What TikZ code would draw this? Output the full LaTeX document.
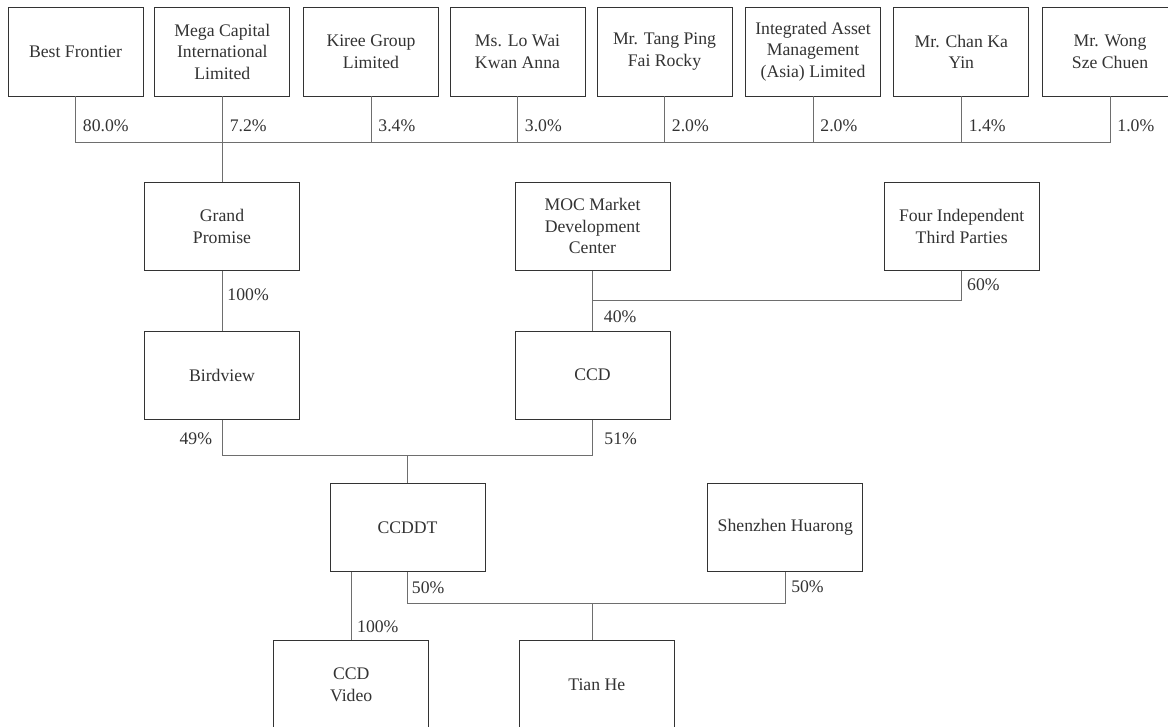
\documentclass[tikz,border=0pt]{standalone}
\usepackage{fontspec}
\setmainfont{Liberation Serif}
\usetikzlibrary{positioning}
\definecolor{boxgray}{HTML}{333333}
\definecolor{linkgray}{HTML}{6E6E6E}

\begin{document}
\begin{tikzpicture}[x=1pt, y=-1pt,
    font=\fontsize{17.7}{21.5}\selectfont, text=boxgray,
    owner/.style={draw=boxgray, line width=0.9pt, minimum width=135pt,
                  minimum height=88.5pt, align=center, inner sep=2pt},
    entity/.style={owner, minimum width=155pt, minimum height=88pt},
    link/.style={draw=linkgray, line width=0.9pt},
    pct/.style={anchor=west, inner sep=0pt, xshift=#1}, pct/.default=7pt,
    pctl/.style={anchor=east, inner sep=0pt, xshift=-9.5pt}]
    \fill[white] (0,0) rectangle (1168,726);
    \useasboundingbox (0,0) rectangle (1168,726);

    % shareholders
    \node [owner] (bf)    at (75.5,51.7)  {Best Frontier};
    \node [owner] (mega)  at (222.3,51.7) {Mega Capital\\International\\Limited};
    \node [owner] (kiree) at (371,51.7)   {Kiree Group\\Limited};
    \node [owner] (lowai) at (517.5,51.7) {Ms. Lo Wai\\Kwan Anna};
    \node [owner] (tang)  at (664.5,51.7) {Mr. Tang Ping\\Fai Rocky};
    \node [owner] (iam)   at (813,51.7)   {Integrated Asset\\Management\\(Asia) Limited};
    \node [owner] (chan)  at (961.3,51.7) {Mr. Chan Ka\\Yin};
    \node [owner] (wong)  at (1110,51.7)  {Mr. Wong\\Sze Chuen};

    % group companies
    \node [entity] (gp)   at (222,226.3)   {Grand\\Promise};
    \node [entity] (moc)  at (592.5,226.3) {MOC Market\\Development\\Center};
    \node [entity] (four) at (961.7,226.3) {Four Independent\\Third Parties};
    \node [entity, below=60pt of gp]  (bird) {Birdview};
    \node [entity, below=60pt of moc] (ccd)  {CCD};
    \node [entity] (ccddt) at (407.5,527.3) {CCDDT};
    \node [entity] (shz)   at (785.3,527.3) {Shenzhen Huarong};
    \node [entity] (video) at (351.2,684.7) {CCD\\Video};
    \node [entity] (tian)  at (596.8,684.7) {Tian He};

    \coordinate (bus1) at (0,142.7);
    \coordinate (bus2) at (0,300);
    \coordinate (bus3) at (0,455.7);
    \coordinate (bus4) at (0,603.3);
    \coordinate (j4)   at (592.7,603.3);

    \draw[link] (bf.south |- bus1) -- (wong.south |- bus1);
    \draw[link] (bf.south) -- node[pct,pos=.63] (p1) {80.0\%} (bf.south |- bus1);
    \draw[link] (mega.south) -- node[pct,pos=.34] (p2) {7.2\%} (mega.south |- gp.north);
    \draw[link] (kiree.south) -- node[pct,pos=.63] (p3) {3.4\%} (kiree.south |- bus1);
    \draw[link] (lowai.south) -- node[pct,pos=.63] (p4) {3.0\%} (lowai.south |- bus1);
    \draw[link] (tang.south) -- node[pct,pos=.63] (p5) {2.0\%} (tang.south |- bus1);
    \draw[link] (iam.south) -- node[pct,pos=.63] (p6) {2.0\%} (iam.south |- bus1);
    \draw[link] (chan.south) -- node[pct,pos=.63] (p7) {1.4\%} (chan.south |- bus1);
    \draw[link] (wong.south) -- node[pct,pos=.63] (p8) {1.0\%} (wong.south |- bus1);

    \draw[link] (gp.south) -- node[pct=5pt,pos=.4] (p9) {100\%} (bird.north);
    \draw[link] (moc.south) -- node[pct=11pt,pos=.77] (p10) {40\%} (ccd.north);
    \draw[link] (moc.south |- bus2) -- (four.south |- bus2);
    \draw[link] (four.south) -- node[pct=5pt,pos=.47] (p11) {60\%} (four.south |- bus2);

    \draw[link] (bird.south) -- node[pctl,pos=.535] (p12) {49\%} (bird.south |- bus3)
                -- (ccd.south |- bus3) -- node[pct=11.5pt,pos=.465] (p13) {51\%} (ccd.south);
    \draw[link] (ccddt.north |- bus3) -- (ccddt.north);

    \draw[link] (ccddt.south) -- node[pct=4pt,pos=.5] (p14) {50\%} (ccddt.south |- bus4)
                -- (shz.south |- bus4) -- node[pct=5.5pt,pos=.535] (p15) {50\%} (shz.south);
    \draw[link] (video.north |- ccddt.south) -- node[pct=5.5pt,pos=.8] (p16) {100\%} (video.north);
    \draw[link] (j4) -- (j4 |- tian.north);
\end{tikzpicture}
\end{document}
